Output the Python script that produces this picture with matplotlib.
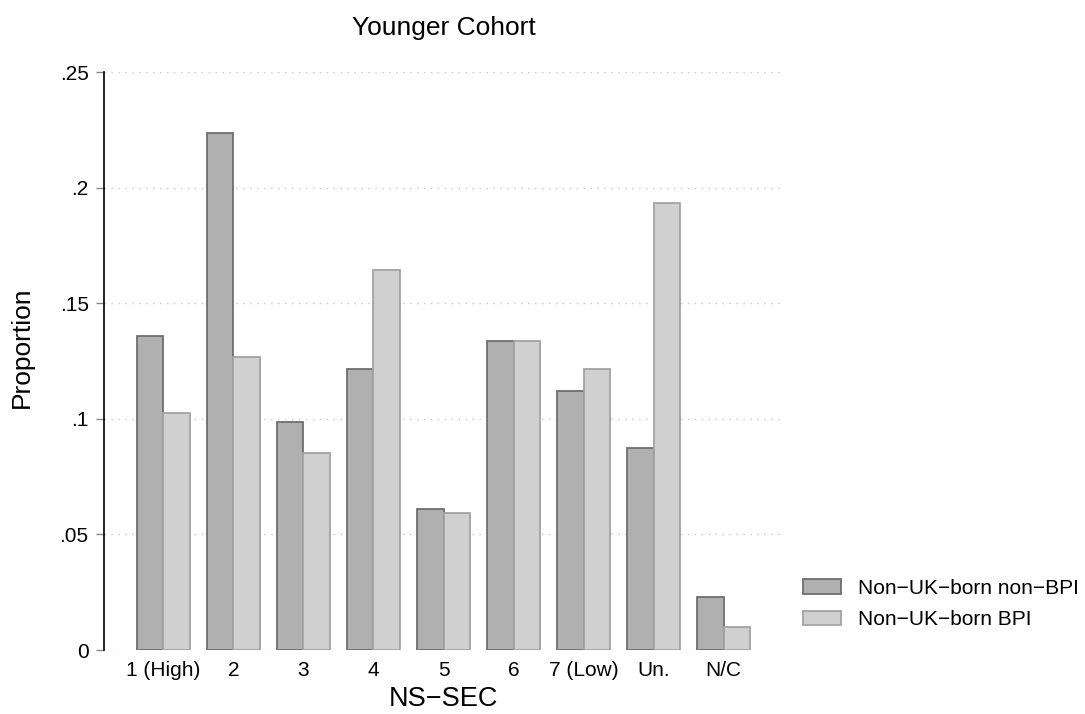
import numpy as np
import matplotlib.pyplot as plt

plt.rcParams['font.family'] = ['Liberation Sans', 'DejaVu Sans']

# NS-SEC classes, younger cohort
categories = ['1 (High)', '2', '3', '4', '5', '6', '7 (Low)', 'Un.', 'N/C']
non_bpi = [0.1358, 0.2235, 0.0988, 0.1217, 0.0611, 0.1336, 0.1119, 0.0875, 0.0228]
bpi = [0.1026, 0.1269, 0.0853, 0.1644, 0.0594, 0.1337, 0.1215, 0.1932, 0.0098]
series_names = ['Non\u2212UK\u2212born non\u2212BPI', 'Non\u2212UK\u2212born BPI']

W, H = 1085, 714
fig = plt.figure(figsize=(W / 100, H / 100), dpi=100)
ax = fig.add_axes([104 / W, 1 - 650 / H, (783 - 104) / W, (650 - 72) / H])

x = np.arange(len(categories))
w = 0.375
ax.bar(x - w / 2, non_bpi, w, color='#b0b0b0', edgecolor='#6e6e6e', linewidth=1.3,
       label=series_names[0], zorder=3)
ax.bar(x + w / 2, bpi, w, color='#d0d0d0', edgecolor='#a3a3a3', linewidth=1.3,
       label=series_names[1], zorder=3)

ax.set_xlim(-0.847, len(categories) - 1 + 0.847)
ax.set_ylim(0, 0.25)
ax.set_yticks([0, 0.05, 0.1, 0.15, 0.2, 0.25])
ax.set_yticklabels(['0', '.05', '.1', '.15', '.2', '.25'])
ax.set_xticks(x)
ax.set_xticklabels(categories)
ax.tick_params(axis='x', length=0, pad=8, labelsize=15)
ax.tick_params(axis='y', length=6, width=1, color='#888888', pad=5, labelsize=15)

ax.yaxis.grid(True, linestyle=(0, (1, 4)), color='#c8c8c8', linewidth=1)
ax.set_axisbelow(True)
for s in ['top', 'right', 'bottom']:
    ax.spines[s].set_visible(False)
ax.spines['left'].set_linewidth(1.2)

xc = (104 + 783) / 2 / W
fig.text(xc, 1 - 35 / H, 'Younger Cohort', fontsize=19, ha='center', va='baseline')
fig.text(xc, 1 - 706 / H, 'NS\u2212SEC', fontsize=19.5, ha='center', va='baseline')
fig.text(22 / W, 1 - 347 / H, 'Proportion', fontsize=19, rotation=90,
         ha='center', va='center')

fig.legend(loc='center left', bbox_to_anchor=(803 / W, 1 - 604 / H), frameon=False,
           fontsize=15, borderpad=0, borderaxespad=0, handlelength=1.83,
           handleheight=0.67, handletextpad=0.8, labelspacing=0.6)

fig.savefig('out.png', dpi=100)
